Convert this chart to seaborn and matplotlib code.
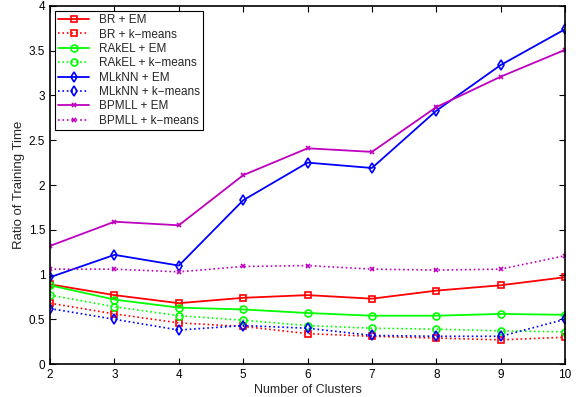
import matplotlib
matplotlib.use("Agg")
import matplotlib.pyplot as plt
import seaborn as sns
import pandas as pd

clusters = [2, 3, 4, 5, 6, 7, 8, 9, 10]

br_em = [0.89, 0.77, 0.68, 0.74, 0.77, 0.73, 0.82, 0.88, 0.97]
br_km = [0.68, 0.56, 0.46, 0.42, 0.34, 0.31, 0.29, 0.27, 0.30]
rakel_em = [0.88, 0.72, 0.63, 0.61, 0.57, 0.54, 0.54, 0.56, 0.55]
rakel_km = [0.77, 0.64, 0.54, 0.49, 0.43, 0.40, 0.39, 0.37, 0.36]
mlknn_em = [0.97, 1.22, 1.10, 1.83, 2.25, 2.19, 2.83, 3.34, 3.74]
mlknn_km = [0.62, 0.50, 0.38, 0.43, 0.40, 0.32, 0.31, 0.31, 0.50]
bpmll_em = [1.32, 1.59, 1.55, 2.11, 2.41, 2.37, 2.87, 3.21, 3.51]
bpmll_km = [1.06, 1.06, 1.03, 1.09, 1.10, 1.06, 1.05, 1.06, 1.21]

series = [
    ("BR + EM", br_em, "red", "-", "s"),
    ("BR + k\u2212means", br_km, "red", ":", "s"),
    ("RAkEL + EM", rakel_em, "lime", "-", "o"),
    ("RAkEL + k\u2212means", rakel_km, "lime", ":", "o"),
    ("MLkNN + EM", mlknn_em, "blue", "-", "d"),
    ("MLkNN + k\u2212means", mlknn_km, "blue", ":", "d"),
    ("BPMLL + EM", bpmll_em, "#bf00bf", "-", "x"),
    ("BPMLL + k\u2212means", bpmll_km, "#bf00bf", ":", "x"),
]

sns.set_style("ticks")
plt.rcParams["font.family"] = ["Liberation Sans", "DejaVu Sans"]

fig = plt.figure(figsize=(5.76, 3.97), dpi=100)
ax = fig.add_axes([0.087, 0.083, 0.894, 0.902])

for name, vals, col, ls, mk in series:
    df = pd.DataFrame({"x": clusters, "y": vals})
    sns.lineplot(data=df, x="x", y="y", ax=ax, color=col, linestyle=ls,
                 marker=mk, markersize=5 if mk != "x" else 3.5,
                 markerfacecolor="none", markeredgecolor=col,
                 markeredgewidth=1.2, linewidth=1.3 if ls == "-" else 1.2,
                 label=name)

ax.set_xlim(2, 10)
ax.set_ylim(0, 4)
ax.set_xticks(clusters)
ax.set_yticks([0, 0.5, 1, 1.5, 2, 2.5, 3, 3.5, 4])
ax.set_yticklabels(["0", "0.5", "1", "1.5", "2", "2.5", "3", "3.5", "4"])
ax.set_xlabel("Number of Clusters", fontsize=9, labelpad=2)
ax.set_ylabel("Ratio of Training Time", fontsize=9.5, labelpad=3)
ax.tick_params(direction="in", length=4, width=0.8, labelsize=8.5,
               top=True, right=True, colors="black")
for s in ax.spines.values():
    s.set_visible(True)
    s.set_linewidth(1.2)
    s.set_color("black")

leg = ax.legend(loc="upper left", fontsize=8.5, frameon=True, fancybox=False,
                edgecolor="black", framealpha=1, borderaxespad=0.4,
                handlelength=2.6, labelspacing=0.2, borderpad=0.3)
leg.get_frame().set_linewidth(0.8)

fig.savefig("out.png", dpi=100)
